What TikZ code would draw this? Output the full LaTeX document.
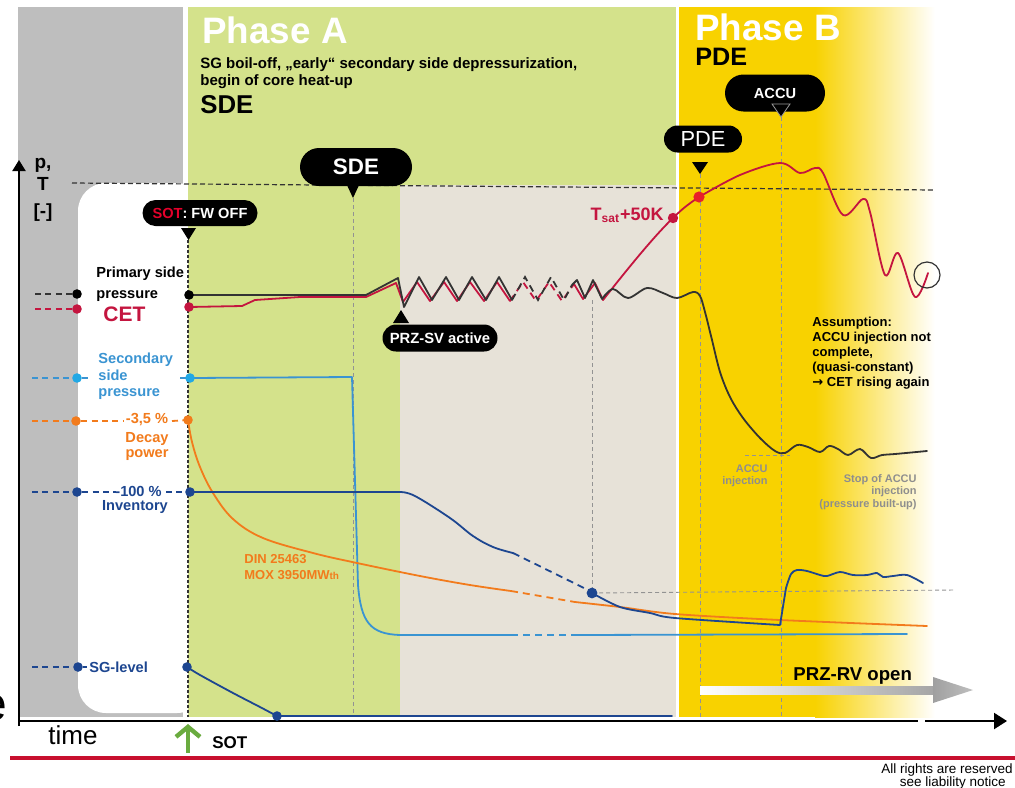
\documentclass[tikz,border=0pt]{standalone}
\usepackage{fontspec}
\setmainfont{Liberation Sans}
\newfontfamily\symfont{DejaVu Sans}
\usetikzlibrary{shapes.misc,arrows.meta}
\newcommand\fsz[1]{\fontsize{#1}{#1}\selectfont}
\definecolor{bggray}{HTML}{BEBEBE}
\definecolor{phA}{HTML}{D4E28B}
\definecolor{beige}{HTML}{E7E2D8}
\definecolor{phB}{HTML}{F8D200}
\definecolor{cetred}{HTML}{C4153F}
\definecolor{dotred}{HTML}{E8202A}
\definecolor{sotred}{HTML}{E4002B}
\definecolor{footred}{HTML}{C8102E}
\definecolor{sblue}{HTML}{3A94D2}
\definecolor{sdot}{HTML}{21A8E5}
\definecolor{dorange}{HTML}{F27B1C}
\definecolor{navy}{HTML}{1D4690}
\definecolor{pblack}{HTML}{333333}
\definecolor{annogray}{HTML}{8E8E8E}
\definecolor{sotgreen}{HTML}{6AAB3F}
\begin{document}
\begin{tikzpicture}[x=0.5pt,y=-0.5pt,
  bubble/.style={rounded rectangle, fill=black, text=white, inner sep=0pt},
  vguide/.style={draw=gray!85, dash pattern=on 2pt off 1.5pt, line width=0.45pt},
  legdash/.style={dash pattern=on 3pt off 2.2pt, line width=0.9pt},
  crv/.style={line width=0.9pt, line join=round, line cap=round},
  brk/.style={line width=0.9pt, dash pattern=on 3.5pt off 2.5pt},
  dotm/.style={circle, inner sep=0pt, minimum size=4.8pt},
  lg/.style={inner sep=0pt, font=\bfseries\fsz{7.3}},
  txt/.style={inner sep=0pt},
]
\useasboundingbox (0,0) rectangle (1015,787);
% ---------- backgrounds
\fill[bggray] (18,7) rectangle (183,717);
\fill[white, rounded corners=14pt] (78,183) rectangle (205,713);
\fill[phA] (188,7) rectangle (676,717);
\fill[beige] (400,185) rectangle (676,717);
\fill[phB] (679,7) rectangle (816,717);
\shade[left color=phB, right color=white] (815,7) rectangle (935,717);

% ---------- guides
\draw[pblack, dash pattern=on 2.5pt off 1.5pt, line width=0.6pt] (72,183) -- (935,190);
\draw[pblack, dash pattern=on 1.5pt off 1pt, line width=0.6pt] (188,240) -- (188,717);
\draw[vguide] (353,198) -- (353,717);
\draw[vguide] (592,300) -- (592,593);
\draw[vguide] (700,174) -- (700,717);
\draw[vguide] (781,117) -- (781,717);
\draw[vguide] (592,593) -- (955,590);
\draw[vguide] (745,455) -- (790,455);

% ---------- axes
\draw[line width=1.1pt, -{Triangle[length=5.5pt,width=6.5pt]}] (19,726) -- (19,160);
\draw[line width=1.1pt] (19,721) -- (918,721);
\draw[line width=1.1pt, -{Triangle[length=6.5pt,width=8pt]}] (925,721) -- (1007,721);
\draw[footred, line width=1.6pt] (10,758) -- (1015,758);

% ---------- legend dots
\node[dotm, fill=black] (pL) at (77,294) {};
\node[dotm, fill=cetred] (rL) at (77,309) {};
\node[dotm, fill=sdot] (sL) at (77,378) {};
\node[dotm, fill=dorange] (oL) at (76,421) {};
\node[dotm, fill=navy] (iL) at (77,492) {};
\node[dotm, fill=navy] (gL) at (78,667) {};
\coordinate (pR) at (189,295);
\coordinate (rR) at (189,307);
\coordinate (sR) at (190,378);
\coordinate (oR) at (188,420);
\coordinate (iR) at (190,492);
\coordinate (gR) at (187,667);
\coordinate (invdot) at (592,593);
\coordinate (sgdot) at (277,716);
\coordinate (tsatdot) at (673,218);
\coordinate (pdedot) at (699,197);

% legend dashes
\draw[legdash, pblack] (35,294) -- (pL);
\draw[legdash, cetred] (35,309) -- (rL);
\draw[legdash, sblue] (32,378) -- (sL);
\draw[legdash, sblue] (sL) -- (92,378);
\draw[legdash, sblue] (180,378) -- (sR);
\draw[legdash, dorange] (32,421) -- (oL);
\draw[legdash, dorange] (oL) -- (124,421);
\draw[legdash, dorange] (172,421) -- (oR);
\draw[legdash, navy] (32,492) -- (iL);
\draw[legdash, navy] (iL) -- (116,492);
\draw[legdash, navy] (166,492) -- (iR);
\draw[legdash, navy] (32,667) -- (gL);
\draw[line width=0.9pt, navy] (gL) -- (87,667);

% ---------- curves
% secondary side pressure
\draw[crv, sblue] (sR) -- (352,377) -- (358,585) .. controls (361,622) and (370,634) .. (400,635) -- (511,635);
\draw[brk, sblue] (511,635) -- (577,635);
\draw[crv, sblue] (577,635) -- (907,634);
% decay power
\draw[crv, dorange] (oR) plot[smooth, tension=0.6] coordinates {(188,420) (192,442) (200,467) (213,493) (233,519) (263,538) (313,553) (357,563) (420,576) (470,585) (511,591)};
\draw[brk, dorange] (511,591) -- (575,602);
\draw[crv, dorange] (575,602) plot[smooth, tension=0.5] coordinates {(575,602) (620,607) (675,614) (780,620) (927,626)};
% inventory
\draw[crv, navy] (iR) -- (400,492) plot[smooth, tension=0.6] coordinates {(400,492) (415,496) (450,518) (473,536) (493,547) (513,553)};
\draw[brk, navy] (513,553) -- (586,589);
\draw[crv, navy] (invdot) plot[smooth, tension=0.5] coordinates {(592,593) (620,607) (650,613) (675,618) (780,625)} -- (786,588) plot[smooth, tension=0.5] coordinates {(786,588) (791,574) (797,570) (807,571) (820,575) (827,576) (840,572) (853,575) (867,575) (877,573) (883,577) (893,576) (907,575) (923,583)};
% SG level
\draw[crv, navy] (gR) plot[smooth, tension=0.5] coordinates {(187,667) (200,675) (233,693) (260,707) (277,716)} -- (672,716);
% CET
\draw[crv, cetred] (rR) -- (242,306) -- (255,300) -- (300,297) -- (366,297) -- (396,283) -- (403,302) -- (417,282) -- (430,301) -- (444,282) -- (457,301) -- (470,282) -- (484,301) -- (497,282) -- (510,301);
\draw[brk, cetred] (510,301) -- (523,282) -- (536,301) -- (549,282) -- (562,301) -- (574,284);
\draw[crv, cetred] (574,284) -- (583,299) -- (595,283) -- (603,300) .. controls (615,285) and (650,240) .. (tsatdot) .. controls (683,208) and (690,203) .. (pdedot);
\draw[crv, cetred] (pdedot) plot[smooth, tension=0.55] coordinates {(699,197) (740,175) (780,163) (800,173) (815,168) (823,173) (843,215) (863,199) (870,212) (885,275) (898,253) (915,297) (928,273)};
% primary side pressure
\draw[crv, pblack] (pR) -- (366,295) -- (398,278) -- (404,307) -- (419,277) -- (432,300) -- (446,277) -- (459,300) -- (472,277) -- (486,300) -- (499,277) -- (512,300);
\draw[brk, pblack] (512,300) -- (525,277) -- (538,300) -- (551,277) -- (564,300) -- (572,285);
\draw[crv, pblack] (572,285) -- (577,280) -- (585,298) -- (593,280) -- (602,299) plot[smooth, tension=0.55] coordinates {(602,299) (613,289) (628,298) (647,288) (663,293) (677,298) (693,292) (700,296) (705,312) (712,340) (720,372) (730,397) (743,418) (760,438) (775,451) (785,453) (797,445) (808,447) (820,452) (829,446) (838,449) (848,455) (860,449) (871,458) (882,455) (895,454) (927,451)};

% right-hand dots and circle
\node[dotm, fill=black] (pRd) at (pR) {};
\node[dotm, fill=cetred] (rRd) at (rR) {};
\node[dotm, fill=sdot] (sRd) at (sR) {};
\node[dotm, fill=dorange] (oRd) at (oR) {};
\node[dotm, fill=navy] (iRd) at (iR) {};
\node[dotm, fill=navy] (gRd) at (gR) {};
\node[dotm, fill=navy, minimum size=5.4pt] (invd) at (invdot) {};
\node[dotm, fill=navy] (sgd) at (sgdot) {};
\node[dotm, fill=cetred, minimum size=5.2pt] (tsd) at (tsatdot) {};
\node[dotm, fill=dotred, minimum size=5.6pt] (pdd) at (pdedot) {};
\node[circle, draw=pblack, line width=0.6pt, minimum size=13pt, inner sep=0pt] (endc) at (927,275) {};

% ---------- titles
\node[txt, anchor=base west, text=white, font=\bfseries\fsz{18.4}] (phaseA) at (202,43) {Phase A};
\node[txt, anchor=base west, font=\bfseries\fsz{7.5}] (dA1) at (200,68) {SG boil-off, „early“ secondary side depressurization,};
\node[txt, anchor=base west, font=\bfseries\fsz{7.5}] (dA2) at (200,85) {begin of core heat-up};
\node[txt, anchor=base west, font=\bfseries\fsz{12.9}] (sdeH) at (200,113) {SDE};
\node[txt, anchor=base west, text=white, font=\bfseries\fsz{18.4}] (phaseB) at (695,40) {Phase B};
\node[txt, anchor=base west, font=\bfseries\fsz{12.6}] (pdeH) at (695,65) {PDE};

% axis labels
\node[txt, anchor=base, font=\bfseries\fsz{9.5}] (ylab1) at (43,168) {p,};
\node[txt, anchor=base, font=\bfseries\fsz{9.5}] (ylab2) at (43,190) {T};
\node[txt, anchor=base, font=\bfseries\fsz{9.5}] (ylab3) at (43,217) {[-]};
\node[txt, anchor=base west, font=\fsz{13}] (time) at (48,744) {time};
\node[txt, anchor=base east, font=\fsz{24}] (cute) at (8,720) {e};
\draw[sotgreen, line width=2.2pt, -{Straight Barb[length=5pt,width=12pt]}] (188,753) -- (188,724);
\node[txt, anchor=base west, font=\bfseries\fsz{8.5}] (sotb) at (212,748) {SOT};

% legend text
\node[lg, anchor=base west] (tprim1) at (96,277) {Primary side};
\node[lg, anchor=base west] (tprim2) at (96,298) {pressure};
\node[txt, anchor=base west, font=\bfseries\fsz{10.5}, text=cetred] (tcet) at (103,321) {CET};
\node[lg, anchor=base west, text=sblue] (tsec1) at (98,363) {Secondary};
\node[lg, anchor=base west, text=sblue] (tsec2) at (98,380) {side};
\node[lg, anchor=base west, text=sblue] (tsec3) at (98,396) {pressure};
\node[lg, anchor=base, text=dorange] (tdp1) at (147,423) {-3,5 \%};
\node[lg, anchor=base, text=dorange] (tdp2) at (147,442) {Decay};
\node[lg, anchor=base, text=dorange] (tdp3) at (147,457) {power};
\node[lg, anchor=base west, text=navy] (tinv1) at (115,496) {-100 \%};
\node[lg, anchor=base, text=navy] (tinv2) at (135,510) {Inventory};
\node[lg, anchor=base west, text=navy] (tsg) at (89,672) {SG-level};
\node[txt, anchor=base west, text=dorange, font=\bfseries\fsz{6.5}] (din1) at (244,563) {DIN 25463};
\node[txt, anchor=base west, text=dorange, font=\bfseries\fsz{6.5}] (din2) at (244,579) {MOX 3950MW{\fsz{5}th}};
\node[txt, anchor=base east, text=cetred, font=\bfseries\fsz{9}] (tsat) at (664,220) {T\textsubscript{sat}+50K};

% right annotations
\node[txt, anchor=base west, font=\bfseries\fsz{6.5}] (as1) at (812,326) {Assumption:};
\node[txt, anchor=base west, font=\bfseries\fsz{6.5}] (as2) at (812,341) {ACCU injection not};
\node[txt, anchor=base west, font=\bfseries\fsz{6.5}] (as3) at (812,356) {complete,};
\node[txt, anchor=base west, font=\bfseries\fsz{6.5}] (as4) at (812,371) {(quasi-constant)};
\node[txt, anchor=base west, font=\bfseries\fsz{6.5}] (as5) at (812,386) {{\symfont\bfseries →} CET rising again};
\node[txt, anchor=base east, text=annogray, font=\bfseries\fsz{5.5}] (ai1) at (768,472) {ACCU};
\node[txt, anchor=base east, text=annogray, font=\bfseries\fsz{5.5}] (ai2) at (768,484) {injection};
\node[txt, anchor=base east, text=annogray, font=\bfseries\fsz{5.5}] (st1) at (917,482) {Stop of ACCU};
\node[txt, anchor=base east, text=annogray, font=\bfseries\fsz{5.5}] (st2) at (917,494) {injection};
\node[txt, anchor=base east, text=annogray, font=\bfseries\fsz{5.5}] (st3) at (917,507) {(pressure built-up)};

% PRZ-RV arrow
\shade[left color=white, right color=gray!70] (700,686) -- (933,686) -- (933,694) -- (700,694) -- cycle;
\shade[left color=gray!75, right color=gray!50] (933,677) -- (973,690) -- (933,703) -- cycle;
\node[txt, anchor=base west, font=\bfseries\fsz{9.3}] (przrv) at (793,680) {PRZ-RV open};

% footer
\node[txt, anchor=base east, font=\fsz{6.75}] (rights1) at (1013,773) {All rights are reserved};
\node[txt, anchor=base east, font=\fsz{6.75}] (rights2) at (1006,786) {see liability notice};

% ---------- bubbles
\node[bubble, minimum width=57.5pt, minimum height=13pt, font=\bfseries\fsz{7.3}] (sot) at (200,213) {\textcolor{sotred}{SOT}: FW OFF};
\fill (181,228) -- (196,228) -- (188.5,240) -- cycle;
\node[bubble, minimum width=56pt, minimum height=19pt, font=\bfseries\fsz{11.2}] (sde) at (356,167) {SDE};
\fill (346,183) -- (360,183) -- (353,198) -- cycle;
\node[bubble, minimum width=57.5pt, minimum height=13.5pt, font=\bfseries\fsz{7.4}] (prz) at (440,338) {PRZ-SV active};
\fill (393,323) -- (409,323) -- (401,310) -- cycle;
\node[bubble, minimum width=39pt, minimum height=13.5pt, font=\fsz{10.9}] (pde) at (703,139) {PDE};
\fill (692,162) -- (708,162) -- (700,174) -- cycle;
\node[bubble, minimum width=50pt, minimum height=18.5pt, font=\bfseries\fsz{7.3}] (accu) at (775,93) {ACCU};
\filldraw[fill=black, draw=gray!80, line width=0.4pt] (772,104) -- (790,104) -- (781,117) -- cycle;
\end{tikzpicture}
\end{document}
